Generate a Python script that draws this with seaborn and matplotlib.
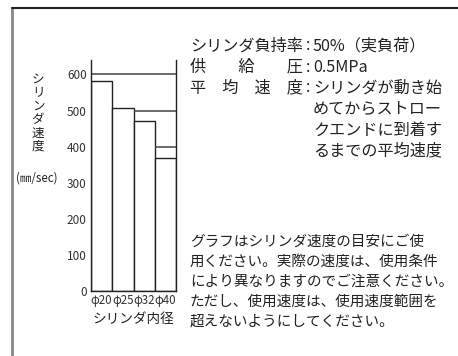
import matplotlib
matplotlib.use('Agg')
import matplotlib.pyplot as plt
import seaborn as sns
from matplotlib.lines import Line2D

# data
bores = ['φ20', 'φ25', 'φ32', 'φ40']
speeds = [583, 507, 472, 368]
limit_speeds = [600, 500, 400]
limit_from = ['φ20', 'φ32', 'φ40']
yticks = [0, 100, 200, 300, 400, 500, 600]

ylabel_chars = ['シ', 'リ', 'ン', 'ダ', '速', '度']
ylabel_unit = '(㎜/sec)'
xlabel = 'シリンダ内径'

cond_labels = ['シリンダ負持率', '供　　給　　圧', '平　均　速　度']
cond_values = ['50%（実負荷）', '0.5MPa', 'シリンダが動き始', 'めてからストロー',
               'クエンドに到着す', 'るまでの平均速度']
note_lines = ['グラフはシリンダ速度の目安にご使',
              '用ください。実際の速度は、使用条件',
              'により異なりますのでご注意ください。',
              'ただし、使用速度は、使用速度範囲を',
              '超えないようにしてください。']

sns.set_theme(style='white')
plt.rcParams['font.family'] = ['Noto Sans CJK JP', 'DejaVu Sans']

W, H = 458, 356
fig = plt.figure(figsize=(W / 100, H / 100), dpi=100)
fig.patch.set_facecolor('white')


def px(x, y):
    return x / W, 1 - y / H


# frame around the panel
fig.add_artist(Line2D([12 / W, 12 / W], [0, 1 - 8 / H], color='#888888', lw=2))
fig.add_artist(Line2D([12 / W, 1], [1 - 8 / H, 1 - 8 / H], color='#222222', lw=1.5))

ax = fig.add_axes([91 / W, 1 - 291 / H, 85 / W, 231 / H])
sns.barplot(x=bores, y=speeds, ax=ax, width=1, color='white', saturation=1,
            edgecolor='#222222', linewidth=1)

# upper limit steps
for v, b in zip(limit_speeds, limit_from):
    ax.hlines(v, bores.index(b) - 0.5, len(bores) - 0.5, color='#444444', lw=1.1)

ax.set_xlim(-0.5, len(bores) - 0.5)
ax.set_ylim(0, 640)
ax.set_yticks(yticks)
ax.tick_params(axis='y', length=0, pad=3, labelsize=8.5, labelcolor='#333333')
ax.tick_params(axis='x', length=0, pad=2, labelsize=8.3, labelcolor='#333333')
ax.set_xlabel(xlabel, fontsize=9.8, labelpad=4, color='#222222')
ax.set_ylabel('')
ax.set_facecolor('white')
for s in ['left', 'bottom', 'right']:
    ax.spines[s].set_visible(True)
    ax.spines[s].set_color('#222222')
    ax.spines[s].set_linewidth(1)
ax.spines['top'].set_visible(False)

# y label, stacked vertically
for i, ch in enumerate(ylabel_chars):
    fig.text(*px(38, 79 + i * 13.5), ch, fontsize=9, ha='center', va='center', color='#222222')
fig.text(*px(37, 178), ylabel_unit, fontsize=8.3, ha='center', va='center', color='#222222')

# conditions block
fs_top = 11.6
for i, t in enumerate(cond_labels):
    fig.text(*px(190, 46 + i * 21), t, fontsize=fs_top, ha='left', va='center', color='#222222')
    fig.text(*px(308, 46 + i * 21), ':', fontsize=fs_top, ha='center', va='center', color='#222222')
for i, t in enumerate(cond_values):
    fig.text(*px(313, 46 + i * 21), t, fontsize=fs_top, ha='left', va='center', color='#222222')

# notes block
for i, t in enumerate(note_lines):
    fig.text(*px(190, 242 + i * 20), t, fontsize=10.5, ha='left', va='center', color='#222222')

fig.savefig('out.png', dpi=100, facecolor='white')
